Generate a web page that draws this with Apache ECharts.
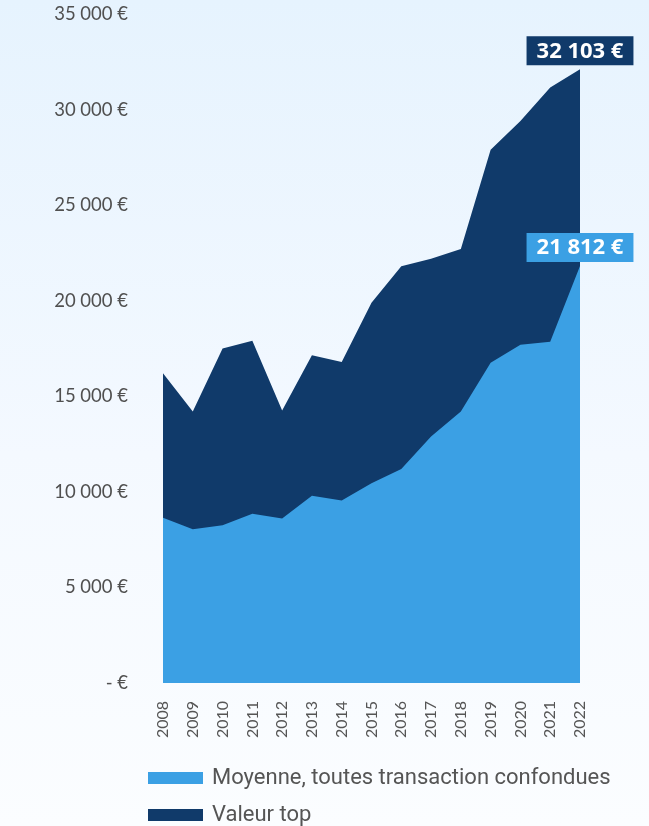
<!DOCTYPE html>
<html><head><meta charset="utf-8">
<script src="https://cdn.jsdelivr.net/npm/echarts@6/dist/echarts.min.js"></script>
<style>html,body{margin:0;padding:0;}#c{width:649px;height:826px;background:linear-gradient(to bottom,#e6f3fe 0%,#f4f9ff 55%,#fbfdff 100%);}</style>
</head><body><div id="c"></div>
<script>
const years = ['2008','2009','2010','2011','2012','2013','2014','2015','2016','2017','2018','2019','2020','2021','2022'];
const moyenne = [8650,8050,8250,8850,8600,9800,9550,10450,11200,12900,14200,16750,17700,17850,21812];
const valeurTop = [16200,14200,17500,17900,14250,17150,16800,19900,21800,22200,22700,27900,29400,31150,32103];
const yTicks = [0,5000,10000,15000,20000,25000,30000,35000];
const names = ['Moyenne, toutes transaction confondues','Valeur top'];

function fmt(v){ if(v===0) return '- €'; return String(v).replace(/\B(?=(\d{3})+(?!\d))/g,' ')+' €'; }

const chart = echarts.init(document.getElementById('c'));
const last = years.length-1;
function withLastLabel(arr,bg){
  return arr.map((v,i)=> i===last ? {value:v,label:{show:true,position:'top',distance:4,
    formatter:p=>fmt(p.value),color:'#fff',fontFamily:'Open Sans',fontWeight:'bold',fontSize:22,lineHeight:24,
    backgroundColor:bg,padding:[3,10,2,10]}} : v);
}
function leg(name,top){
  return {orient:'horizontal',left:143,top:top,itemWidth:55,itemHeight:12,
    icon:'rect',textStyle:{color:'#555',fontSize:22,fontFamily:'Roboto',padding:[0,0,0,4]},
    data:[name]};
}
chart.setOption({
  animation:false,
  grid:{left:163,right:69,top:14,bottom:143},
  legend:[leg(names[0],762),leg(names[1],799)],
  xAxis:{type:'category',data:years,boundaryGap:false,
    axisLine:{show:false},axisTick:{show:false},
    axisLabel:{rotate:90,color:'#555',fontSize:16,fontFamily:'Lato',margin:18}},
  yAxis:{type:'value',min:yTicks[0],max:yTicks[yTicks.length-1],interval:5000,
    splitLine:{show:false},axisLine:{show:false},axisTick:{show:false},
    axisLabel:{formatter:fmt,color:'#505050',fontSize:18.5,fontFamily:'Lato',margin:35}},
  series:[
    {name:names[1],type:'line',data:withLastLabel(valeurTop,'#103a6a'),symbol:'circle',symbolSize:0,showSymbol:true,lineStyle:{width:0},
      itemStyle:{color:'#103a6a'},areaStyle:{color:'#103a6a',opacity:1},z:1},
    {name:names[0],type:'line',data:withLastLabel(moyenne,'#3ba0e4'),symbol:'circle',symbolSize:0,showSymbol:true,lineStyle:{width:0},
      itemStyle:{color:'#3ba0e4'},areaStyle:{color:'#3ba0e4',opacity:1},z:2}
  ]
});
</script></body></html>
